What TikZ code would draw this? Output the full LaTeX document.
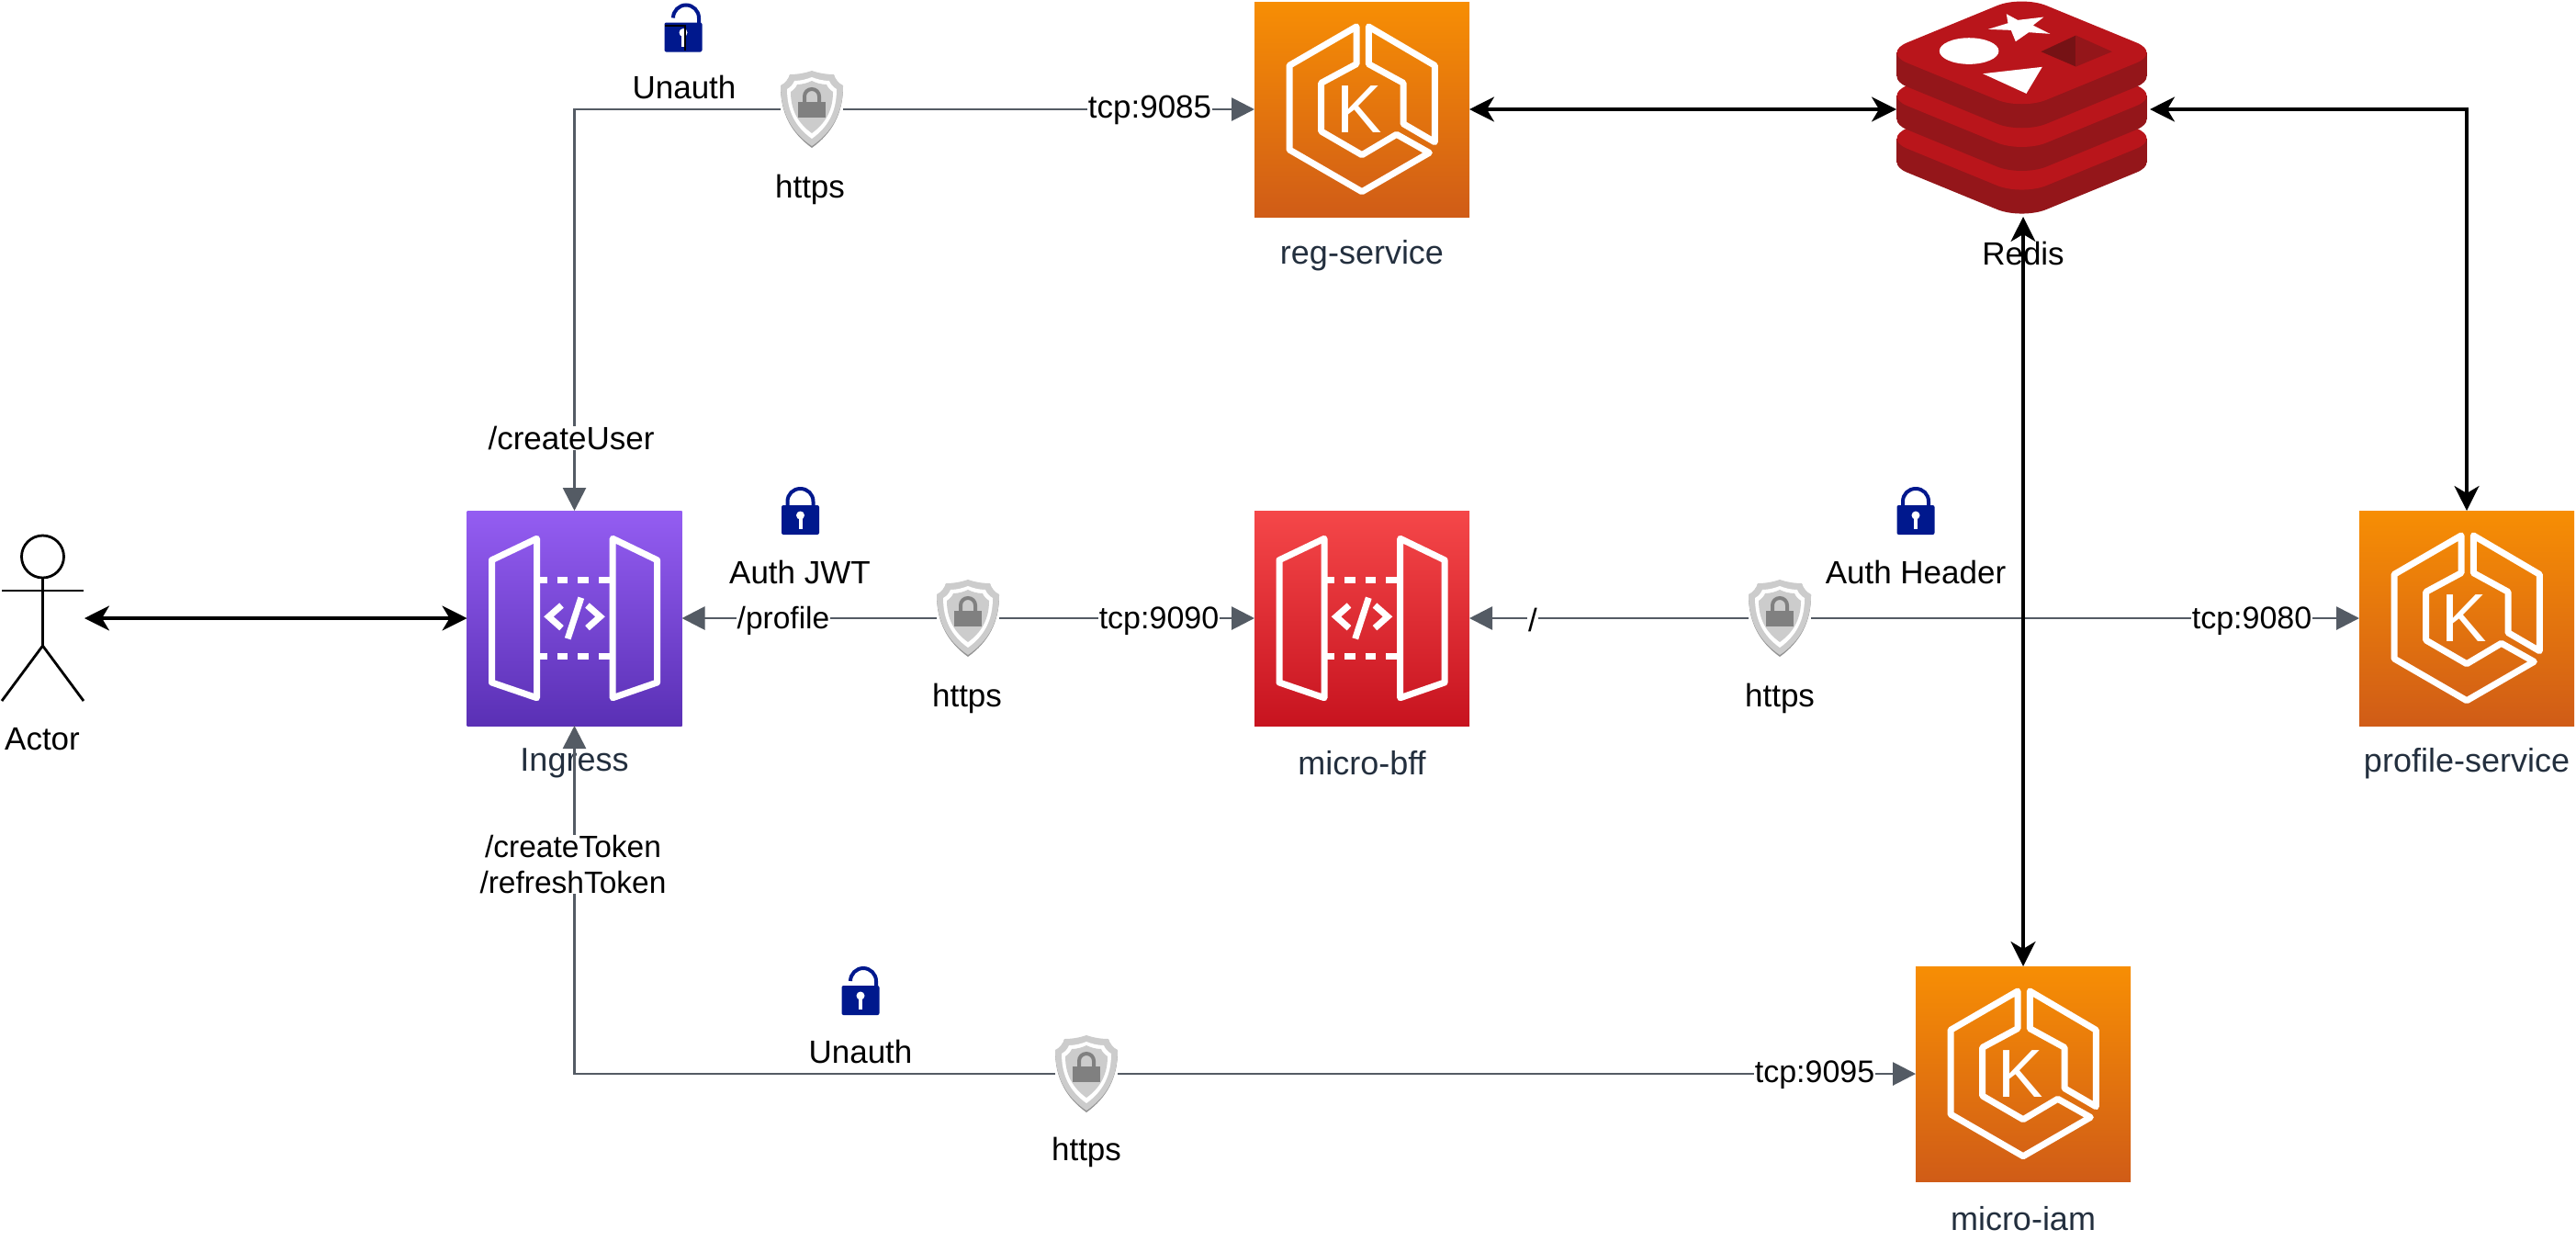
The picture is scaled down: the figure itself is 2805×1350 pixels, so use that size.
\documentclass[tikz,border=0pt]{standalone}
\usepackage{fontspec}
\setmainfont{Liberation Sans}
\usepackage{tikz}
\usetikzlibrary{arrows.meta,calc}
\definecolor{linegray}{HTML}{545B64}
\definecolor{labelink}{HTML}{232F3E}
\definecolor{lockblue}{HTML}{00188D}
\definecolor{redislight}{HTML}{B9151B}
\definecolor{redisdark}{HTML}{94161A}
\definecolor{eksTop}{HTML}{F78E04}
\definecolor{eksBottom}{HTML}{D05C17}
\definecolor{gateTop}{HTML}{945DF2}
\definecolor{gateBottom}{HTML}{5A30B5}
\definecolor{bffTop}{HTML}{F54749}
\definecolor{bffBottom}{HTML}{C7131F}
\tikzset{
  iconbox/.style={rectangle, minimum size=234pt, inner sep=0pt, outer sep=0pt},
  eksbox/.style={iconbox, top color=eksTop, bottom color=eksBottom},
  ingressbox/.style={iconbox, top color=gateTop, bottom color=gateBottom},
  bffbox/.style={iconbox, top color=bffTop, bottom color=bffBottom},
  iconlabel/.style={text=labelink, inner sep=0pt, font=\fontsize{36}{40}\selectfont},
  edgelabel/.style={fill=white, inner xsep=1pt, inner ysep=0pt},
  plainlabel/.style={inner sep=0pt},
  grayline/.style={draw=linegray, line width=2.8pt, -{Triangle[length=25pt,width=25pt]}},
  blackline/.style={draw=black, line width=3.2pt, {Stealth[length=27pt,width=27pt,inset=8pt]}-{Stealth[length=27pt,width=27pt,inset=8pt]}},
  shieldspot/.style={rectangle, minimum width=68pt, minimum height=84pt, inner sep=0pt, outer sep=0pt},
  ekslogo/.pic={
    \draw[white, line width=7pt, line join=round]
      (-6,-90) -- (-79,-47.7) -- (-79,44) -- (0,89.7) -- (73.3,47.3) -- (37.7,27.3)
      -- (0,49.7) -- (-44.3,24) -- (-44.3,-28.7) -- (-6,-49.3) -- cycle;
    \draw[white, line width=7pt, line join=round]
      (7.3,-90) -- (79.3,-47.7) -- (79.3,35.7) -- (45,15.7) -- (45,-28.7) -- (7.3,-49.3) -- cycle;
    \node[text=white, inner sep=0pt, font=\fontsize{74}{74}\selectfont] (ekslet) at (-3,0) {K};
  },
  gatelogo/.pic={
    \draw[white, line width=7pt, line join=round]
      (-90,-63.3) -- (-41,-86.7) -- (-41,86.7) -- (-90,70) -- cycle;
    \draw[white, line width=7pt, line join=round]
      (41.7,-86.7) -- (90,-63.3) -- (90,70) -- (41.7,86.7) -- cycle;
    \foreach \ya in {-41.7,41} {
      \foreach \xa/\xb in {-37.7/-30,-19/-7.3,3.7/15,26.3/38.3}
        \draw[white, line width=7pt] (\xa,\ya) -- (\xb,\ya);
    }
    \draw[white, line width=7pt, line join=miter] (-14,-14) -- (-28,-1.7) -- (-14,10.7);
    \draw[white, line width=7pt] (7.3,-22.3) -- (-7.3,22.3);
    \draw[white, line width=7pt, line join=miter] (14,-14) -- (28,-1.7) -- (14,10.7);
  },
  redislayer/.pic={
    \fill[redisdark, rounded corners=29pt] (-151.7,26) -- (0,-36.3) -- (151.7,26) -- (0,88.3) -- cycle;
    \fill[redisdark] (-136.5,0) rectangle (136.5,26);
    \fill[redislight, rounded corners=29pt] (-151.7,0) -- (0,-62.3) -- (151.7,0) -- (0,62.3) -- cycle;
  },
  redislogo/.pic={
    %% layers, lowest first
    \pic at (0,-59.3+93.3) {redislayer};
    \pic at (0,-59.3+46.7) {redislayer};
    \pic at (0,-59.3) {redislayer};
    %% marks on the top layer
    \begin{scope}[shift={(-161.7,-116.5)}, x=0.3333pt, y=-0.3333pt]
      \fill[white] (435,45) -- (472,65) -- (557,55) -- (522,82) -- (578,110) -- (508,105)
        -- (465,135) -- (450,98) -- (375,95) -- (440,75) -- cycle;
      \fill[white] (313,166) ellipse [x radius=32.3pt, y radius=14.3pt];
      \fill[white] (358,240) -- (552,218) -- (500,305) -- cycle;
      \fill[redisdark!80!black] (548,168) -- (662,115) -- (662,217) -- cycle;
      \fill[redisdark] (662,115) -- (780,168) -- (662,217) -- cycle;
    \end{scope}
  },
  shieldlogo/.pic={
    \fill[gray!85] (-34,-24) .. controls (-29,-26) and (-25,-32) .. (-24,-36)
      .. controls (-14,-36) and (-6,-38) .. (0,-40) .. controls (6,-38) and (14,-36) .. (24,-36)
      .. controls (25,-32) and (29,-26) .. (34,-24) .. controls (34,6) and (22,27) .. (0,43)
      .. controls (-22,27) and (-34,6) .. (-34,-24) -- cycle;
    \fill[gray!40] (-34,-25) .. controls (-29,-27) and (-25,-33) .. (-24,-37)
      .. controls (-14,-37) and (-6,-39) .. (0,-41) .. controls (6,-39) and (14,-37) .. (24,-37)
      .. controls (25,-33) and (29,-27) .. (34,-25) .. controls (34,5) and (22,26) .. (0,41)
      .. controls (-22,26) and (-34,5) .. (-34,-25) -- cycle;
    \fill[white] (-27,-21) .. controls (-23,-23) and (-20,-27) .. (-19,-30)
      .. controls (-12,-30) and (-5,-32) .. (0,-34) .. controls (5,-32) and (12,-30) .. (19,-30)
      .. controls (20,-27) and (23,-23) .. (27,-21) .. controls (27,3) and (18,20) .. (0,33)
      .. controls (-18,20) and (-27,3) .. (-27,-21) -- cycle;
    \fill[gray!40] (-23,-18) .. controls (-20,-20) and (-17,-23) .. (-16,-26)
      .. controls (-10,-26) and (-4,-28) .. (0,-30) .. controls (4,-28) and (10,-26) .. (16,-26)
      .. controls (17,-23) and (20,-20) .. (23,-18) .. controls (23,2) and (15,16) .. (0,27)
      .. controls (-15,16) and (-23,2) .. (-23,-18) -- cycle;
    \fill[gray] (-15,-7) rectangle (15,10);
    \draw[gray, line width=4pt] (-8,-7) -- (-8,-13) .. controls (-8,-17.5) and (-4.5,-21) .. (0,-21)
      .. controls (4.5,-21) and (8,-17.5) .. (8,-13) -- (8,-7);
  },
  lockbody/.pic={
    \fill[lockblue, rounded corners=2pt] (-20.5,-16) rectangle (20.5,16);
    \fill[white] (0,-5) circle [radius=4.5pt];
    \fill[white] (-2,-4) rectangle (2,10);
  },
  lockclosed/.pic={
    \draw[lockblue, line width=4pt] (-14,-14) -- (-14,-20) .. controls (-14,-28) and (-8,-34) .. (0,-34)
      .. controls (8,-34) and (14,-28) .. (14,-20) -- (14,-14);
    \pic {lockbody};
  },
  lockopen/.pic={
    \draw[lockblue, line width=4pt] (-11,-21) .. controls (-11,-28.7) and (-4.7,-35) .. (3,-35)
      .. controls (10.7,-35) and (17,-28.7) .. (17,-21) -- (17,-14);
    \pic {lockbody};
  },
}

\begin{document}
\begin{tikzpicture}[x=1pt, y=-1pt, font=\fontsize{35}{39}\selectfont]
  \useasboundingbox (0,0) rectangle (2805,1350);
  %% Boxes and icons
  \node[ingressbox] (ingress) at (625.5,673) {};
  \pic at (ingress.center) {gatelogo};
  \node[bffbox] (microbff) at (1483,673) {};
  \pic at (microbff.center) {gatelogo};
  \node[eksbox] (regservice) at (1483,119) {};
  \pic at (regservice.center) {ekslogo};
  \node[eksbox] (profileservice) at (2686,673) {};
  \pic at (profileservice.center) {ekslogo};
  \node[eksbox] (microiam) at (2203,1169) {};
  \pic at (microiam.center) {ekslogo};
  \node[rectangle, minimum width=276pt, minimum height=234pt, inner sep=0pt, outer sep=0pt] (redis) at (2203,119) {};
  \pic at (2201.5,116.7) {redislogo};
  %% Actor
  \node[rectangle, minimum width=92pt, minimum height=160pt, inner sep=0pt, outer sep=0pt] (actor) at (46,673) {};
  \node[circle, draw, line width=2.8pt, minimum size=46pt, inner sep=0pt] (actorhead) at (46.5,606) {};
  \coordinate (actorhip) at (46.5,703);
  \coordinate (actorarma) at (2,643);
  \coordinate (actorarmb) at (91,643);
  \coordinate (actorlega) at (2,763);
  \coordinate (actorlegb) at (91,763);
  \draw[line width=2.8pt] (actorhead.south) -- (actorhip);
  \draw[line width=2.8pt] (actorarma) -- (actorarmb);
  \draw[line width=2.8pt] (actorlega) -- (actorhip) -- (actorlegb);
  \node[plainlabel] (actorlabel) at (46,805) {Actor};
  %% Icon captions
  \node[iconlabel] (ingresslabel) at (625.5,831) {Ingress};
  \node[iconlabel] (bfflabel) at (1483,831) {micro-bff};
  \node[iconlabel] (reglabel) at (1483,278) {reg-service};
  \node[iconlabel] (profilelabel) at (2686,831) {profile-service};
  \node[iconlabel] (iamlabel) at (2203,1327) {micro-iam};
  \node[plainlabel] (redislabel) at (2203,276) {Redis};
  %% Shield positions
  \node[shieldspot] (shieldreg) at (884,119) {};
  \node[shieldspot] (shieldjwt) at (1054,673) {};
  \node[shieldspot] (shieldhdr) at (1938,673) {};
  \node[shieldspot] (shieldiam) at (1183,1169) {};
  %% Gray connectors
  \draw[grayline] (shieldreg.west) -| (ingress.north);
  \draw[grayline] (shieldreg.east) -- (regservice.west);
  \draw[grayline] (shieldjwt.west) -- (ingress.east);
  \draw[grayline] (shieldjwt.east) -- (microbff.west);
  \draw[grayline] (shieldhdr.west) -- (microbff.east);
  \draw[grayline] (shieldhdr.east) -- (profileservice.west);
  \draw[grayline] (shieldiam.west) -| (ingress.south);
  \draw[grayline] (shieldiam.east) -- (microiam.west);
  %% Black connectors
  \draw[blackline] (actor.east) -- (ingress.west);
  \draw[blackline] (regservice.east) -- (redis.west);
  \draw[blackline] (redis.east) -| (profileservice.north);
  \draw[blackline] (redis.south) -- (microiam.north);
  %% Shields and locks
  \pic at (884,118) {shieldlogo};
  \pic at (1054,672) {shieldlogo};
  \pic at (1938,672) {shieldlogo};
  \pic at (1183,1168) {shieldlogo};
  \pic at (744,40.5) {lockopen};
  \pic at (871.5,566) {lockclosed};
  \pic at (2086,566) {lockclosed};
  \pic at (937,1089) {lockopen};
  %% Small black mark on the top lock
  \coordinate (marka) at (724,28);
  \coordinate (markb) at (746,28);
  \coordinate (markc) at (746,55);
  \draw[line width=2.8pt] (marka) -- (markb) -- (markc);
  %% Edge labels
  \node[edgelabel] (createuser) at (622,477) {/createUser};
  \node[edgelabel, align=center, font=\fontsize{33.5}{39}\selectfont] (createtoken) at (624,941) {/createToken\\/refreshToken};
  \node[edgelabel, font=\fontsize{33.5}{39}\selectfont] (profilepath) at (853,676) {/profile};
  \node[edgelabel] (rootpath) at (1669,675) {/};
  \node[edgelabel] (tcpreg) at (1252,120) {tcp:9085};
  \node[edgelabel, font=\fontsize{34}{39}\selectfont] (tcpbff) at (1262,676) {tcp:9090};
  \node[edgelabel, font=\fontsize{34}{39}\selectfont] (tcpprofile) at (2452,676) {tcp:9080};
  \node[edgelabel, font=\fontsize{34}{39}\selectfont] (tcpiam) at (1976,1170) {tcp:9095};
  %% Other labels
  \node[plainlabel] (unauthtop) at (745,95) {Unauth};
  \node[plainlabel] (authjwt) at (871,623) {Auth JWT};
  \node[plainlabel] (authheader) at (2086,623) {Auth Header};
  \node[plainlabel] (unauthlow) at (937,1145) {Unauth};
  \node[plainlabel] (httpsreg) at (882,206) {https};
  \node[plainlabel] (httpsjwt) at (1053,760) {https};
  \node[plainlabel] (httpshdr) at (1938,760) {https};
  \node[plainlabel] (httpsiam) at (1183,1254) {https};
\end{tikzpicture}
\end{document}
